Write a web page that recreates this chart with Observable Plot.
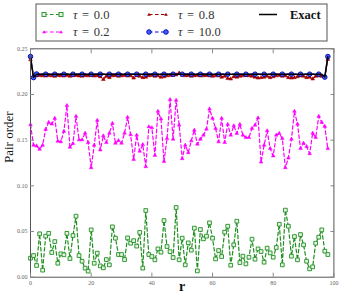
<!DOCTYPE html>
<html><head><meta charset="utf-8">
<script src="https://cdn.jsdelivr.net/npm/d3@7"></script>
<script src="https://cdn.jsdelivr.net/npm/@observablehq/plot@0.6"></script>
<style>
body{margin:0;background:#fff;width:343px;height:297px;overflow:hidden;font-family:"Liberation Serif",serif;}
#legend{height:44px;}
#legend svg,#chart svg{display:block;}
</style></head><body>
<div id="legend"></div>
<div id="chart"></div>
<script>
// r index (pair distance) 0..98
const rValues = d3.range(99);

const tau00 = [
0.0208,0.0237,0.0128,0.0475,0.0077,0.045,0.048,0.027,0.039,0.0153,
0.0256,0.0245,0.048,0.0204,0.0456,0.0668,0.0237,0.0175,0.0099,0.0066,
0.0518,0.0153,0.0263,0.0124,0.0102,0.0193,0.0135,0.0551,0.0427,0.0248,
0.0248,0.0193,0.043,0.0372,0.040,0.034,0.049,0.0099,0.073,0.0248,
0.0226,0.019,0.031,0.0274,0.062,0.0336,0.028,0.0215,0.0763,0.019,
0.0427,0.0135,0.0376,0.0296,0.0537,0.0069,0.0522,0.042,0.0449,0.0595,
0.0427,0.020,0.0292,0.0226,0.0493,0.0558,0.0131,0.0354,0.0613,0.016,
0.023,0.0146,0.0219,0.0416,0.0197,0.031,0.0281,0.0164,0.0318,0.0266,
0.0219,0.0325,0.058,0.0135,0.0734,0.0558,0.023,0.0445,0.019,0.0467,
0.0354,0.0175,0.0091,0.0113,0.0372,0.0438,0.0518,0.0285,0.0248];

const tau02 = [
0.1669,0.1445,0.1437,0.140,0.1445,0.1618,0.1695,0.1677,0.1739,0.1489,
0.1482,0.1596,0.1879,0.1423,0.1463,0.1761,0.1504,0.1504,0.1577,0.1474,
0.1199,0.1445,0.1717,0.1393,0.1548,0.1474,0.1577,0.1684,0.1467,0.1496,
0.1467,0.1577,0.175,0.1559,0.129,0.1555,0.1379,0.1452,0.121,0.1647,
0.1636,0.1334,0.1816,0.1732,0.1268,0.1518,0.1945,0.1511,0.1937,0.1665,
0.1298,0.1445,0.1364,0.1493,0.161,0.1456,0.1511,0.1555,0.1621,0.1842,
0.1739,0.1629,0.1482,0.1739,0.1474,0.1673,0.1555,0.1658,0.1574,0.1673,
0.1555,0.1529,0.1529,0.1629,0.1665,0.1743,0.1261,0.1445,0.1603,0.1408,
0.1327,0.1555,0.1574,0.1518,0.1199,0.1305,0.1511,0.1816,0.1676,0.1408,
0.1467,0.143,0.1353,0.1577,0.1529,0.1761,0.1695,0.1651,0.1408];

const tau08 = [
0.2380,0.2185,0.2205,0.2208,0.2205,0.2202,0.2208,0.2205,0.2200,0.2208,
0.2205,0.2203,0.2208,0.2200,0.2206,0.2208,0.2204,0.2200,0.2207,0.2205,
0.2208,0.2202,0.2206,0.2195,0.2165,0.2200,0.2185,0.2205,0.2208,0.2200,
0.2205,0.2208,0.2203,0.2206,0.2180,0.2205,0.2200,0.2185,0.2190,0.2205,
0.2208,0.2200,0.2205,0.2190,0.2195,0.2205,0.2208,0.2210,0.2215,0.2235,
0.2212,0.2205,0.2208,0.2200,0.2206,0.2208,0.2203,0.2206,0.2208,0.2205,
0.2200,0.2206,0.2205,0.2190,0.2200,0.2175,0.2170,0.2195,0.2190,0.2200,
0.2205,0.2208,0.2205,0.2200,0.2190,0.2180,0.2185,0.2190,0.2200,0.2185,
0.2195,0.2205,0.2208,0.2200,0.2205,0.2185,0.2180,0.2185,0.2195,0.2205,
0.2200,0.2185,0.2190,0.2170,0.2200,0.2205,0.2200,0.2190,0.2385];

const tau10R = [0,1,2,5,8,11,14,17,20,23,26,29,32,35,38,41,44,47,50,53,56,59,62,65,68,71,74,77,80,83,86,89,92,95,97,98];
const tau10 = [0.2415,0.2185,0.2224,0.2222,0.2222,0.2222,0.2222,0.2222,0.2222,0.2222,0.2222,0.2222,0.2222,0.2222,0.2222,0.2222,0.2222,0.2222,0.2222,0.2222,0.2222,0.2222,0.2222,0.2222,0.2222,0.2222,0.2222,0.2222,0.2222,0.2222,0.2222,0.2222,0.2222,0.2222,0.2190,0.2415];

const exactR = [0,1,2,96,97,98];
const exactV = [0.2415,0.2188,0.2222,0.2222,0.2192,0.2415];

const xTicks = [0,20,40,60,80,100];
const yTicks = [0,0.05,0.10,0.15,0.20,0.25];
const legendLabels = ["0.0","0.2","0.8","10.0","Exact"];

const cGreen = "#1f8f1f", cMag = "#ff00ff", cRed = "#a00000", cBlue = "#0000ee";

const rows = (xs, ys) => xs.map((x,i)=>({r:x, v:ys[i]}));
const d00 = rows(rValues, tau00), d02 = rows(rValues, tau02), d08 = rows(rValues, tau08);
const d10 = rows(tau10R, tau10), dEx = rows(exactR, exactV);

const lineOpts = (c) => ({x:"r", y:"v", stroke:c, strokeWidth:1.2, strokeDasharray:"3.5,2.5"});

const chart = Plot.plot({
  width: 343, height: 253,
  marginLeft: 30, marginRight: 9.6, marginTop: 4.3, marginBottom: 20.3,
  style: {fontFamily: "'Liberation Serif', serif", fontSize: "6px", color: "#666", background: "#fff"},
  x: {domain: [0,100]},
  y: {domain: [0,0.25]},
  marks: [
    Plot.line(d00, lineOpts(cGreen)),
    Plot.dot(d00, {x:"r", y:"v", symbol:"square", r:2.1, stroke:cGreen, strokeWidth:0.9, fill:"#e6f4e6"}),
    Plot.line(d02, lineOpts(cMag)),
    Plot.dot(d02, {x:"r", y:"v", symbol:"triangle", r:1.35, fill:cMag, stroke:cMag, strokeWidth:0.5}),
    Plot.line(d08, lineOpts(cRed)),
    Plot.dot(d08, {x:"r", y:"v", symbol:"triangle", r:1.4, fill:cRed, stroke:cRed, strokeWidth:0.5}),
    Plot.line(d10, lineOpts(cBlue)),
    Plot.dot(d10, {x:"r", y:"v", symbol:"circle", r:2.3, fill:"#4060ff", stroke:"#0000aa", strokeWidth:0.9}),
    Plot.line(dEx, {x:"r", y:"v", stroke:"#000", strokeWidth:1.5}),
    Plot.frame({stroke:"#555", strokeWidth:1}),
    Plot.axisX(xTicks, {anchor:"bottom", tickSize:-4, tickPadding:8, label:null, stroke:"#888", fill:"#666"}),
    Plot.axisX(xTicks, {anchor:"top", tickSize:-4, tickFormat:()=>"", label:null, stroke:"#888"}),
    Plot.axisY(yTicks, {anchor:"left", tickSize:-4, tickPadding:7, tickFormat:d3.format(".2f"), label:null, stroke:"#888", fill:"#666"}),
    Plot.axisY(yTicks, {anchor:"right", tickSize:-4, tickFormat:()=>"", label:null, stroke:"#888"}),
    Plot.text(["Pair order"], {text:d=>d, frameAnchor:"left", dx:-22, rotate:-90, fontSize:13, fill:"#111"}),
    Plot.text(["r"], {text:d=>d, frameAnchor:"bottom", dy:14, fontSize:14, fontWeight:"bold", fill:"#111"})
  ]
});
document.getElementById("chart").appendChild(chart);

// Legend (SVG above the chart)
const lg = d3.select("#legend").append("svg").attr("width",343).attr("height",44);
lg.append("rect").attr("x",36).attr("y",4).attr("width",291).attr("height",37)
  .attr("fill","#fff").attr("stroke","#555").attr("stroke-width",1);
const entries = [
  {lab:legendLabels[0], c:cGreen, sym:"sq", x:42, y:14.5},
  {lab:legendLabels[1], c:cMag, sym:"tri", x:42, y:32},
  {lab:legendLabels[2], c:cRed, sym:"tri", x:147, y:14.5},
  {lab:legendLabels[3], c:cBlue, sym:"circ", x:147, y:32}
];
entries.forEach(e=>{
  lg.append("line").attr("x1",e.x+2).attr("x2",e.x+19).attr("y1",e.y).attr("y2",e.y)
    .attr("stroke",e.c).attr("stroke-width",1.2).attr("stroke-dasharray","3.5,2.5");
  [e.x+2, e.x+19].forEach(px=>{
    if(e.sym==="sq") lg.append("rect").attr("x",px-2).attr("y",e.y-2).attr("width",4).attr("height",4)
       .attr("fill","#e6f4e6").attr("stroke",e.c).attr("stroke-width",0.9);
    else if(e.sym==="tri") lg.append("path").attr("d",`M${px},${e.y-1.8}L${px+1.8},${e.y+1.3}L${px-1.8},${e.y+1.3}Z`).attr("fill",e.c);
    else lg.append("circle").attr("cx",px).attr("cy",e.y).attr("r",2.3).attr("fill","#4060ff").attr("stroke","#0000aa").attr("stroke-width",0.9);
  });
  const t = lg.append("text").attr("x",e.x+31).attr("y",e.y+4).attr("font-size",12.5)
    .attr("font-family","'Liberation Serif', serif").attr("fill","#333").attr("word-spacing","1.5px");
  t.append("tspan").attr("font-style","italic").text("τ");
  t.append("tspan").text(" = " + e.lab);
});
lg.append("line").attr("x1",259).attr("x2",277).attr("y1",14.5).attr("y2",14.5).attr("stroke","#000").attr("stroke-width",1.5);
lg.append("text").attr("x",290).attr("y",18.5).attr("font-size",12.5).attr("font-weight","bold")
  .attr("font-family","'Liberation Serif', serif").attr("fill","#111").text(legendLabels[4]);
</script>
</body></html>
